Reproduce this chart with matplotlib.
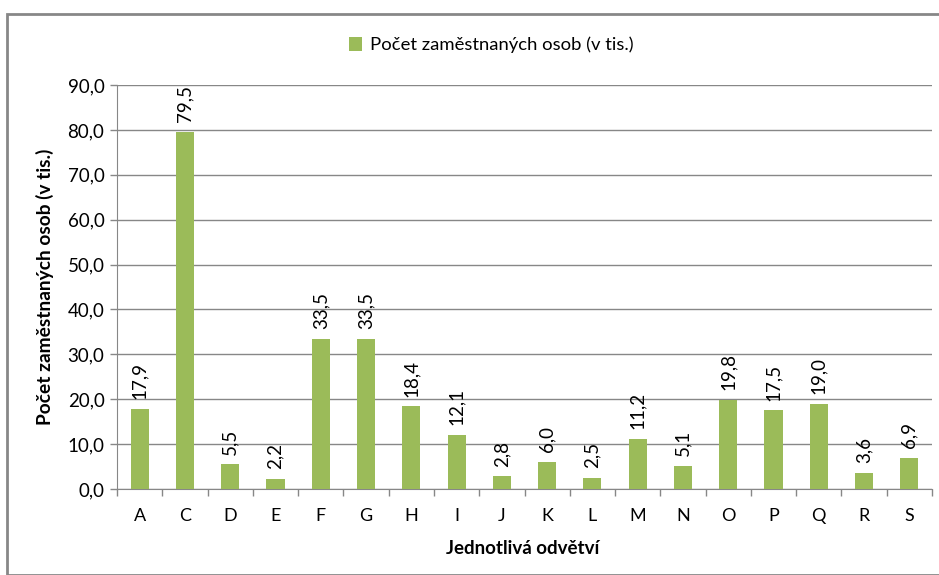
import matplotlib
matplotlib.use("Agg")
import matplotlib.pyplot as plt
from matplotlib.patches import Rectangle
from matplotlib.ticker import FixedLocator, FuncFormatter
import numpy as np

categories = ["A", "C", "D", "E", "F", "G", "H", "I", "J", "K", "L", "M", "N", "O", "P", "Q", "R", "S"]
values = [17.9, 79.5, 5.5, 2.2, 33.5, 33.5, 18.4, 12.1, 2.8, 6.0, 2.5, 11.2, 5.1, 19.8, 17.5, 19.0, 3.6, 6.9]
series_name = "Počet zaměstnaných osob (v tis.)"
x_title = "Jednotlivá odvětví"
y_title = "Počet zaměstnaných osob (v tis.)"

plt.rcParams['font.family'] = ['Lato', 'DejaVu Sans']

W, H = 939, 575
fig = plt.figure(figsize=(W / 100, H / 100), dpi=100)
fig.patch.set_facecolor("white")

# outer border
fig.add_artist(Rectangle((7 / W, 0), (W + 5 - 7) / W, (H - 14) / H, transform=fig.transFigure,
                         fill=False, edgecolor="#878787", linewidth=2, clip_on=False))

left, right, top, bottom = 117, 932, 85, 489
ax = fig.add_axes([left / W, 1 - bottom / H, (right - left) / W, (bottom - top) / H])

green = "#9BBB59"
grid_c = "#878787"
x = np.arange(len(categories))
bars = ax.bar(x, values, width=0.4, color=green, label=series_name, zorder=3)

ax.set_xlim(-0.5, len(categories) - 0.5)
ax.set_ylim(0, 90)
ax.yaxis.set_major_locator(FixedLocator(np.arange(0, 91, 10)))
ax.yaxis.set_major_formatter(FuncFormatter(lambda v, p: f"{v:.1f}".replace(".", ",")))
ax.grid(axis="y", color=grid_c, linewidth=1, zorder=0)
ax.set_xticks(x)
ax.set_xticklabels(categories)
ax.set_xticks(np.arange(-0.5, len(categories)), minor=True)
ax.tick_params(axis="x", which="major", length=0, pad=14, labelsize=13, colors="black")
ax.tick_params(axis="x", which="minor", length=5, color=grid_c, width=1)
ax.tick_params(axis="y", length=5, color=grid_c, width=1, labelsize=13.5, pad=4, labelcolor="black")

for s in ["top", "right"]:
    ax.spines[s].set_visible(False)
ax.spines["left"].set_color(grid_c)
ax.spines["bottom"].set_color(grid_c)

for xi, v in zip(x, values):
    ax.annotate(f"{v:.1f}".replace(".", ","), (xi, v), xytext=(0, 7), textcoords="offset points",
                rotation=90, ha="center", va="bottom", fontsize=13.5)

fig.text(523 / W, 1 - 548 / H, x_title, fontsize=13.5, fontweight="bold", ha="center", va="center")
fig.text(45 / W, 1 - 287 / H, y_title, fontsize=13.8, fontweight="bold", ha="center", va="center",
         rotation=90)

leg = fig.legend(handles=[bars], labels=[series_name], loc="center", bbox_to_anchor=(491 / W, 1 - 45 / H),
                 frameon=False, fontsize=13.3, handlelength=0.75, handleheight=0.75, handletextpad=0.4)

fig.savefig("out.png", dpi=100, facecolor="white")
